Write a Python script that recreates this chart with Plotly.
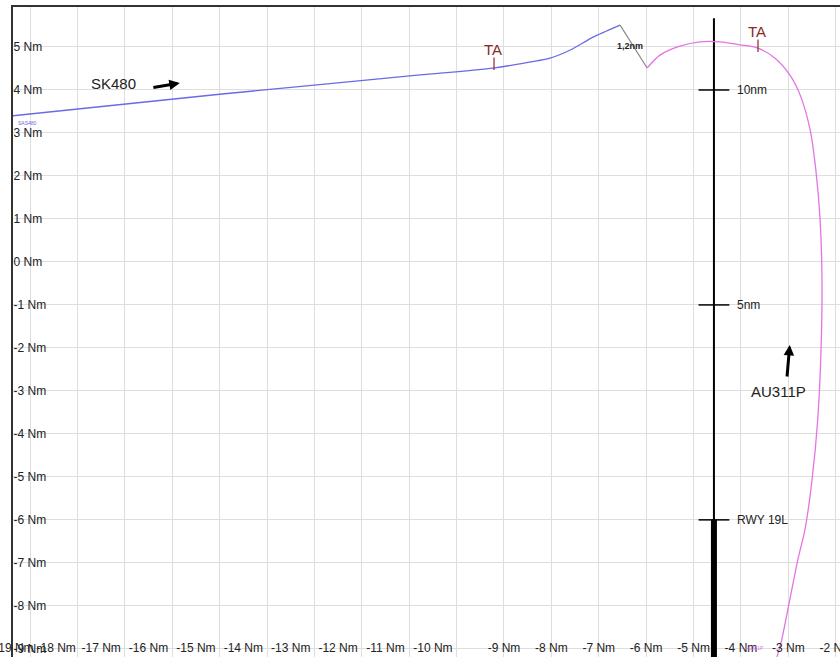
import plotly.graph_objects as go

# ---------------- data ----------------
# SK480 track (blue)
sk_x = [-19.36, -15.0, -10.77, -9.23, -8.03, -7.60, -7.12, -6.55]
sk_y = [3.40, 3.90, 4.35, 4.51, 4.74, 4.93, 5.23, 5.51]

# 1,2nm separation segment
sep_x = [-6.55, -5.98]
sep_y = [5.51, 4.51]

# AU311P track (magenta)
au_x = [-5.98, -5.71, -5.29, -4.86, -4.44, -4.02, -3.66, -3.28, -2.97, -2.75,
        -2.54, -2.42, -2.33, -2.29, -2.31, -2.38, -2.50, -2.65, -2.80, -2.97,
        -3.14, -3.24]
au_y = [4.51, 4.81, 5.02, 5.12, 5.12, 5.05, 4.98, 4.74, 4.35, 3.88,
        3.07, 2.14, 0.98, -0.42, -2.05, -3.67, -5.07, -6.23, -6.93, -7.86,
        -8.79, -9.19]

# runway centreline
rwy_x = -4.57
rwy_top = 5.67
rwy_bottom = -9.19
rwy_threshold = -6.0
rwy_marks_y = [4.0, -1.0, -6.0]
rwy_marks_text = ["10nm", "5nm", "RWY 19L"]

# TA marks
ta_x = [-9.21, -3.64]
ta_y = [4.51, 4.93]

# axis ticks
x_grid = list(range(-19, -1))
x_label_pos = [-19.34, -18.45, -17.5, -16.5, -15.5, -14.5, -13.5, -12.5, -11.5,
               -10.5, -9, -8, -7, -6, -5, -4, -3, -2]
x_label_text = [f"{v} Nm" for v in range(-19, -1)]
y_ticks = list(range(-9, 6))
y_text = [f"{v} Nm" for v in y_ticks]

X_RANGE = [-19.36, -1.91]
Y_RANGE = [-9.19, 5.93]

FONT = "Liberation Sans, Arial, sans-serif"
BLUE = "#6a6ae6"
MAG = "#e474e4"
TA_COL = "#8b2a2a"

fig = go.Figure()

# runway centreline thin and thick
fig.add_trace(go.Scatter(x=[rwy_x, rwy_x], y=[rwy_bottom, rwy_top], mode="lines",
                         line=dict(color="black", width=2), hoverinfo="skip"))
fig.add_trace(go.Scatter(x=[rwy_x, rwy_x], y=[rwy_bottom, rwy_threshold], mode="lines",
                         line=dict(color="black", width=6), hoverinfo="skip"))
fig.add_trace(go.Scatter(x=[rwy_x] * len(rwy_marks_y), y=rwy_marks_y, mode="markers",
                         marker=dict(symbol="line-ew-open", size=22, color="black",
                                     line=dict(color="black", width=1.5)),
                         hoverinfo="skip"))

# tracks
fig.add_trace(go.Scatter(x=sk_x, y=sk_y, mode="lines",
                         line=dict(color=BLUE, width=1.3, shape="spline", smoothing=0.6),
                         hoverinfo="skip"))
fig.add_trace(go.Scatter(x=sep_x, y=sep_y, mode="lines",
                         line=dict(color="#8a8a8a", width=1.2), hoverinfo="skip"))
fig.add_trace(go.Scatter(x=au_x, y=au_y, mode="lines",
                         line=dict(color=MAG, width=1.3, shape="spline", smoothing=0.8),
                         hoverinfo="skip"))

# TA tick marks
fig.add_trace(go.Scatter(x=ta_x, y=[v + 0.1 for v in ta_y], mode="markers",
                         marker=dict(symbol="line-ns-open", size=9, color=TA_COL,
                                     line=dict(color=TA_COL, width=1.2)),
                         hoverinfo="skip"))

# secondary x axis for the shifted tick labels
fig.add_trace(go.Scatter(x=[X_RANGE[0]], y=[Y_RANGE[0]], xaxis="x2", mode="markers",
                         marker=dict(opacity=0), hoverinfo="skip"))

ann = []
for ty, tt in zip(rwy_marks_y, rwy_marks_text):
    ann.append(dict(x=rwy_x + 0.44, y=ty, text=tt, showarrow=False, xanchor="left",
                    font=dict(family=FONT, size=12, color="#222")))
for tx, tyv in zip(ta_x, ta_y):
    ann.append(dict(x=tx - 0.02, y=tyv + 0.44, text="TA", showarrow=False,
                    font=dict(family=FONT, size=15, color=TA_COL)))
ann += [
    dict(x=-17.25, y=4.14, text="SK480", showarrow=False,
         font=dict(family=FONT, size=15, color="#222")),
    dict(x=-3.20, y=-3.02, text="AU311P", showarrow=False,
         font=dict(family=FONT, size=15, color="#222")),
    dict(x=-6.34, y=5.02, text="<b>1,2nm</b>", showarrow=False,
         font=dict(family=FONT, size=9, color="#222")),
    dict(x=-19.06, y=3.23, text="SAS480", showarrow=False,
         font=dict(family=FONT, size=5, color=BLUE)),
    dict(x=-3.72, y=-8.98, text="AU311P", showarrow=False,
         font=dict(family=FONT, size=5, color=MAG)),
    dict(x=-15.84, y=4.16, ax=-16.43, ay=4.05, axref="x", ayref="y", text="",
         showarrow=True, arrowhead=2, arrowsize=0.7, arrowwidth=3, arrowcolor="black"),
    dict(x=-2.97, y=-1.93, ax=-3.03, ay=-2.70, axref="x", ayref="y", text="",
         showarrow=True, arrowhead=2, arrowsize=0.7, arrowwidth=3, arrowcolor="black"),
]

fig.update_layout(
    width=840, height=657,
    margin=dict(l=13, r=0, t=7, b=0, autoexpand=False),
    paper_bgcolor="white", plot_bgcolor="white",
    showlegend=False,
    annotations=ann,
    xaxis=dict(range=X_RANGE, tickvals=x_grid, showticklabels=False, ticks="",
               showgrid=True, gridcolor="#dedede", gridwidth=1, zeroline=False,
               showline=True, linecolor="#333", linewidth=2, mirror=True,
               fixedrange=True, automargin=False),
    xaxis2=dict(range=X_RANGE, overlaying="x", side="bottom", anchor="y",
                tickvals=x_label_pos, ticktext=x_label_text, showgrid=False,
                zeroline=False, ticks="", ticklabelposition="inside",
                ticklabeloverflow="allow", tickangle=0, automargin=False,
                tickfont=dict(family=FONT, size=12, color="#222")),
    yaxis=dict(range=Y_RANGE, tickvals=y_ticks, ticktext=y_text, ticks="",
               ticklabelposition="inside", ticklabeloverflow="allow",
               tickfont=dict(family=FONT, size=12, color="#222"),
               showgrid=True, gridcolor="#dedede", gridwidth=1, zeroline=False,
               showline=True, linecolor="#333", linewidth=2, mirror=True,
               fixedrange=True, automargin=False),
)

fig.write_html("out.html")
